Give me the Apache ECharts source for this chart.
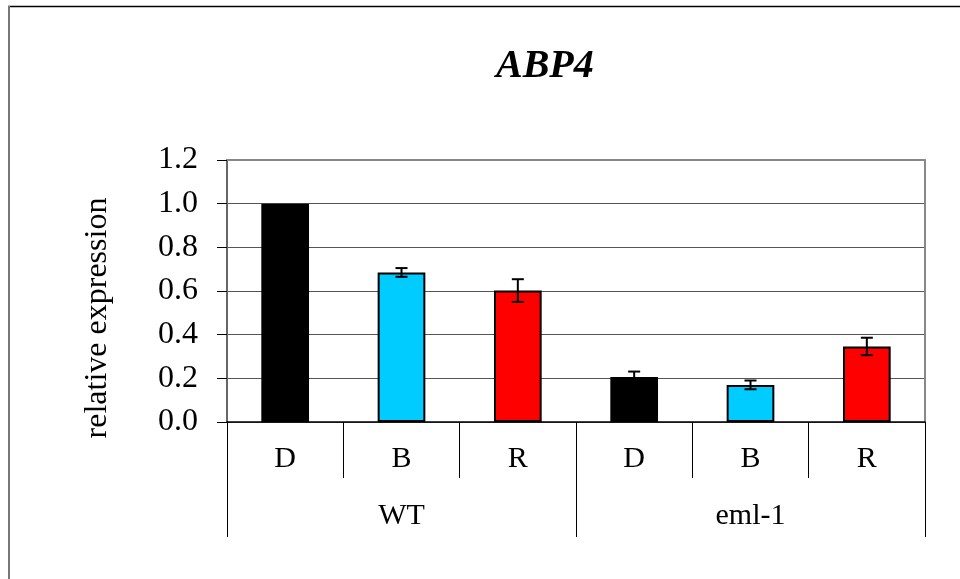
<!DOCTYPE html>
<html>
<head>
<meta charset="utf-8">
<title>ABP4</title>
<script src="https://cdn.jsdelivr.net/npm/echarts@6/dist/echarts.min.js"></script>
<style>
  html, body { margin: 0; padding: 0; background: #fff; }
  #chart { width: 960px; height: 579px; }
</style>
</head>
<body>
<div id="chart"></div>
<script>
// data
var conditions = ['D', 'B', 'R', 'D', 'B', 'R'];
var genotypes = ['WT', 'eml-1'];
var expression = [1.0, 0.685, 0.602, 0.206, 0.170, 0.346];
var errors = [0, 0.02, 0.052, 0.025, 0.02, 0.04];
var barColors = ['#000000', '#00CCFF', '#FF0000', '#000000', '#00CCFF', '#FF0000'];
var yTicks = [0, 0.2, 0.4, 0.6, 0.8, 1.0, 1.2];

var serif = 'Liberation Serif, Times New Roman, serif';
var myChart = echarts.init(document.getElementById('chart'));

var barData = expression.map(function (v, i) {
	return {
		value: v,
		itemStyle: { color: barColors[i] }
	};
});

// mean, low, high for the whiskers
var errData = expression.map(function (v, i) {
	return [i, v - errors[i], v + errors[i]];
});

function renderError(params, api) {
	var i = api.value(0);
	if (errors[i] === 0) return null;
	var lo = api.coord([i, api.value(1)]);
	var hi = api.coord([i, api.value(2)]);
	var cap = 6;
	var style = { stroke: '#000', lineWidth: 2, fill: null };
	return {
		type: 'group',
		children: [
			{ type: 'line', shape: { x1: hi[0], y1: hi[1], x2: lo[0], y2: lo[1] }, style: style },
			{ type: 'line', shape: { x1: hi[0] - cap, y1: hi[1], x2: hi[0] + cap, y2: hi[1] }, style: style },
			{ type: 'line', shape: { x1: lo[0] - cap, y1: lo[1], x2: lo[0] + cap, y2: lo[1] }, style: style }
		]
	};
}

var perGroup = conditions.length / genotypes.length;

var option = {
	backgroundColor: '#fff',
	animation: false,
	title: {
		text: 'ABP4',
		left: 491,
		top: 42,
		textStyle: {
			fontFamily: serif,
			fontSize: 40,
			fontWeight: 'bold',
			fontStyle: 'italic',
			color: '#000'
		}
	},
	grid: { left: 227, right: 35, top: 160, bottom: 157 },
	xAxis: [
		{
			// condition labels, long separators between genotypes
			type: 'category',
			data: conditions,
			axisLine: { lineStyle: { color: '#000', width: 1.5 } },
			axisTick: {
				show: true,
				length: 115,
				interval: function (i) { return i % perGroup === 0; },
				lineStyle: { color: '#000', width: 1 }
			},
			axisLabel: { margin: 22, fontFamily: serif, fontSize: 30, color: '#000' },
			splitLine: { show: false }
		},
		{
			// short separators between conditions
			type: 'category',
			position: 'bottom',
			data: conditions,
			axisLine: { show: false },
			axisTick: { show: true, length: 56, lineStyle: { color: '#000', width: 1 } },
			axisLabel: { show: false }
		},
		{
			// genotype labels
			type: 'category',
			position: 'bottom',
			offset: 56,
			data: genotypes,
			axisLine: { show: false },
			axisTick: { show: false },
			axisLabel: { margin: 23, fontFamily: serif, fontSize: 30, color: '#000' }
		},
		{
			// top border of the plot area
			type: 'category',
			position: 'top',
			data: conditions,
			axisLine: { lineStyle: { color: '#888', width: 2 } },
			axisTick: { show: false },
			axisLabel: { show: false }
		}
	],
	yAxis: [
		{
			type: 'value',
			min: yTicks[0],
			max: yTicks[yTicks.length - 1],
			interval: 0.2,
			axisLine: { show: true, lineStyle: { color: '#666', width: 2 } },
			axisTick: { show: true, inside: false, length: 10, lineStyle: { color: '#000', width: 1 } },
			axisLabel: {
				margin: 29,
				fontFamily: serif,
				fontSize: 32,
				color: '#000',
				formatter: function (v) { return v.toFixed(1); }
			},
			splitLine: { lineStyle: { color: '#555', width: 1 } }
		},
		{
			// right border of the plot area
			type: 'value',
			position: 'right',
			min: yTicks[0],
			max: yTicks[yTicks.length - 1],
			interval: 0.2,
			axisLine: { show: true, lineStyle: { color: '#888', width: 2 } },
			axisTick: { show: false },
			axisLabel: { show: false },
			splitLine: { show: false }
		}
	],
	graphic: [
		{
			type: 'text',
			x: 98,
			y: 318,
			rotation: Math.PI / 2,
			style: {
				text: 'relative expression',
				fontFamily: serif,
				fontSize: 32,
				fill: '#000',
				align: 'center',
				verticalAlign: 'middle'
			}
		},
		{
			type: 'line',
			shape: { x1: 8, y1: 6.5, x2: 960, y2: 6.5 },
			style: { stroke: '#000', lineWidth: 1.5 }
		},
		{
			type: 'line',
			shape: { x1: 9, y1: 6, x2: 9, y2: 579 },
			style: { stroke: '#777', lineWidth: 2 }
		}
	],
	series: [
		{
			type: 'bar',
			xAxisIndex: 0,
			yAxisIndex: 0,
			data: barData,
			barWidth: '41%',
			itemStyle: { borderColor: '#000', borderWidth: 2 },
			z: 3
		},
		{
			type: 'custom',
			xAxisIndex: 0,
			yAxisIndex: 0,
			data: errData,
			renderItem: renderError,
			z: 5
		}
	]
};

myChart.setOption(option);
</script>
</body>
</html>
